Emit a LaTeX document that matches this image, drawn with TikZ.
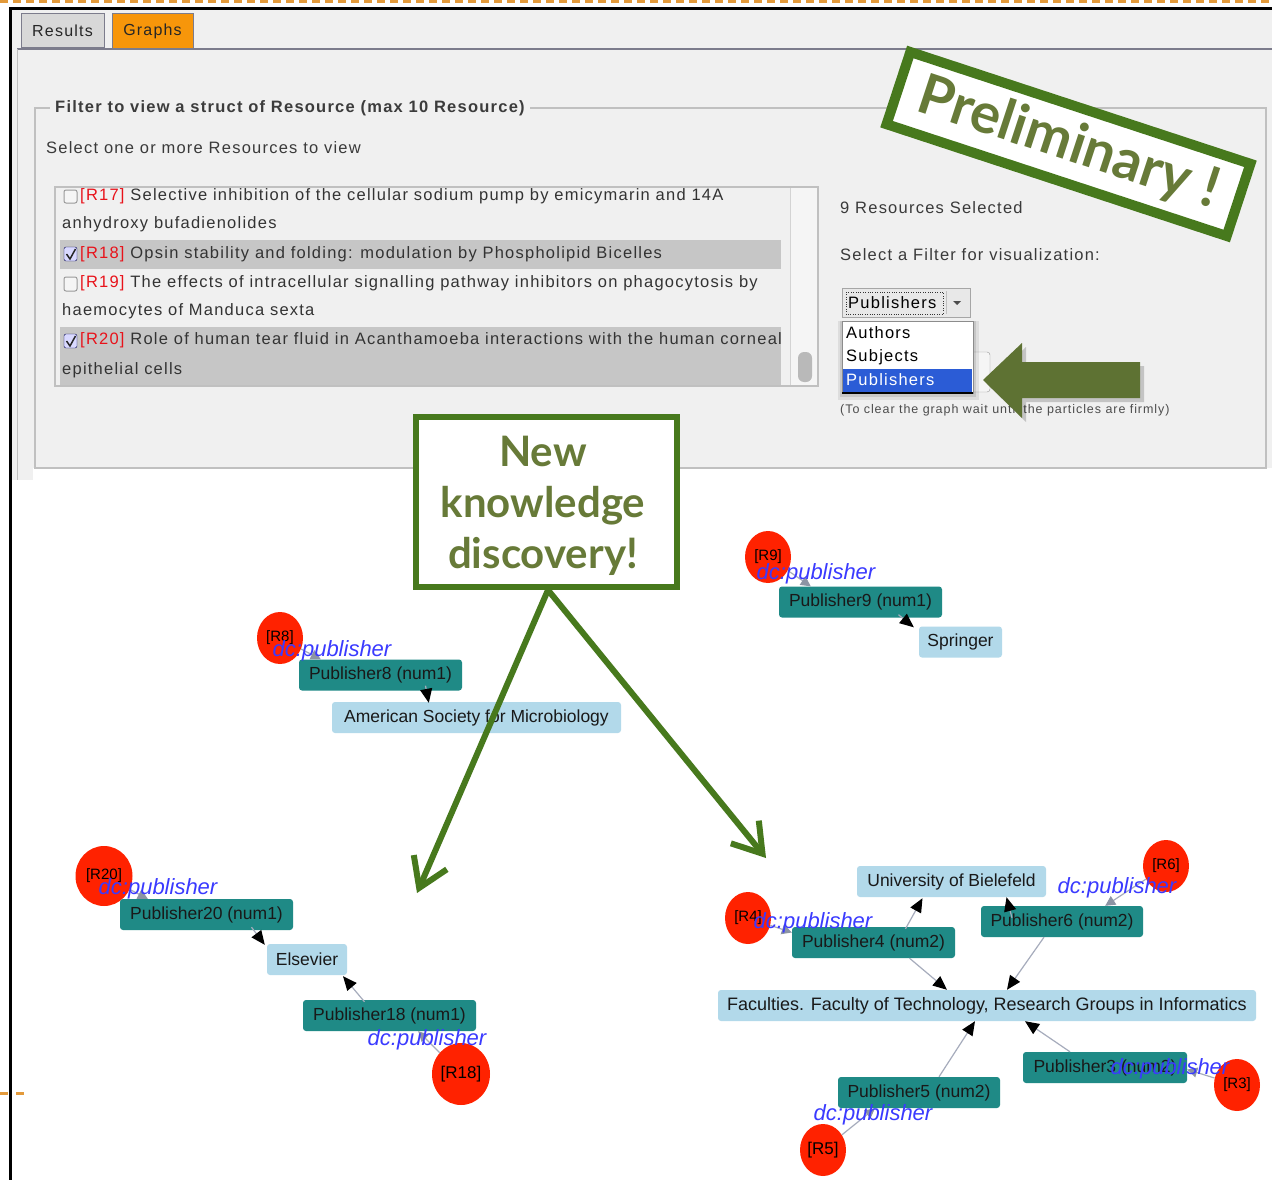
\documentclass[tikz,border=0pt]{standalone}
\usepackage{fontspec}
\setmainfont{Liberation Sans}
\newfontfamily\uifont{Liberation Sans}[LetterSpace=7.5]
\newfontfamily\headfont{Lato}
\usetikzlibrary{arrows.meta,shapes.geometric,calc}
\newcommand\fsz[1]{\fontsize{#1}{#1}\selectfont}
\definecolor{dashorange}{HTML}{E39A3B}
\definecolor{panelgray}{HTML}{F0F0F0}
\definecolor{tabline}{HTML}{7C7C8C}
\definecolor{graphstab}{HTML}{F7960A}
\definecolor{resultstab}{HTML}{D8D8D8}
\definecolor{fsgray}{HTML}{C0C0C0}
\definecolor{legendtxt}{HTML}{3C3C3C}
\definecolor{uitext}{HTML}{3A3A3A}
\definecolor{selrow}{HTML}{C6C6C6}
\definecolor{rlabel}{HTML}{E8121A}
\definecolor{selblue}{HTML}{2B5CD6}
\definecolor{stampgreen}{HTML}{47791D}
\definecolor{olivetext}{HTML}{677A38}
\definecolor{arrowolive}{HTML}{5E7233}
\definecolor{resred}{HTML}{FF2200}
\definecolor{pubteal}{HTML}{1F8A86}
\definecolor{valblue}{HTML}{B2D9EA}
\definecolor{dcblue}{HTML}{3A3AFF}
\definecolor{edgegray}{HTML}{A6ACBC}
\definecolor{headgray}{HTML}{8C94A4}
\begin{document}
\begin{tikzpicture}[x=1pt,y=-1pt,
  tabbox/.style={draw=tabline, line width=1, inner sep=0, font=\uifont\fsz{16}, text=black!85},
  uitxt/.style={anchor=west, inner sep=0, font=\uifont\fsz{16.5}, text=uitext},
  li/.style={anchor=west, inner sep=0, font=\uifont\fsz{16.5}, text=black!80},
  res/.style={ellipse, fill=resred, minimum width=46, minimum height=52, inner sep=0, font=\fsz{15}, text=black},
  pub/.style={fill=pubteal, rounded corners=3, inner sep=0, minimum height=31, font=\fsz{17.5}, text=black!90},
  val/.style={fill=valblue, rounded corners=3, inner sep=0, minimum height=31, font=\fsz{17.5}, text=black!90},
  dcl/.style={inner sep=0, font=\fsz{22}\itshape, text=dcblue},
  gedge/.style={draw=edgegray, line width=1.2, -{Triangle[length=10pt,width=10pt,color=headgray,fill=headgray]}},
  dedge/.style={draw=edgegray, line width=1.2, -{Triangle[length=14pt,width=12pt,color=black,fill=black]}},
  greenarrow/.style={draw=stampgreen, line width=6, -{Straight Barb[length=28pt,width=36pt]}}
]
\useasboundingbox (0,0) rectangle (1272,1180);
\fill[white] (0,0) rectangle (1272,1180);
% panel background and frame
\fill[panelgray] (12,10) rectangle (1272,468);
\fill[panelgray] (12,468) rectangle (33,480);
\draw[dashorange, line width=3, dash pattern=on 8 off 5] (0,1.5) -- (1272,1.5);
\draw[dashorange, line width=3, dash pattern=on 8 off 8] (0,1093) -- (24,1093);
\draw[black, line width=3] (10,1180) -- (10,8.5) -- (1272,8.5);
% tabs
\node[tabbox, fill=resultstab, minimum width=83, minimum height=34] (tres) at (62.5,31) {Results};
\node[tabbox, fill=graphstab, minimum width=81, minimum height=35] (tgra) at (152.5,31.5) {Graphs};
\draw[tabline, line width=2] (17,49.5) -- (1272,49.5);
\draw[fsgray, line width=1] (17,49.5) -- (17,480);
% fieldset
\draw[fsgray, line width=1.5] (35,108) rectangle (1266,468);
\node[anchor=west, fill=panelgray, inner xsep=5, inner ysep=2, font=\uifont\fsz{16.5}\bfseries, text=legendtxt] (legend) at (50,108) {Filter to view a struct of Resource (max 10 Resource)};
\node[uitxt] (selhint) at (46,148) {Select one or more Resources to view};
% list box
\draw[fill=panelgray, draw=fsgray, line width=1.2] (55,187) rectangle (818,386);
\fill[selrow] (60,240) rectangle (781,269);
\fill[selrow] (60,327) rectangle (781,385);
\fill[white!96!black] (790,188) rectangle (817,385);
\draw[fsgray!70] (790,188) -- (790,385);
\fill[gray!55, rounded corners=6] (798,352) rectangle (812,382);
% checkboxes
\draw[rounded corners=2, draw=gray!80, fill=white!92!gray, line width=1] (64,190) rectangle (77,203);
\draw[rounded corners=2, draw=gray!80, fill=white!92!gray, line width=1] (64,277) rectangle (77,291);
\draw[rounded corners=2, draw=black!70!blue, fill=blue!15!white] (64,247) rectangle (77,261);
\draw[line width=1.5, black!85] (66.5,254) -- (70,259) -- (75.5,249);
\draw[rounded corners=2, draw=black!70!blue, fill=blue!15!white] (64,334) rectangle (77,348);
\draw[line width=1.5, black!85] (66.5,341) -- (70,346) -- (75.5,336);
% list texts
\node[li] (l17) at (80,196) {\textcolor{rlabel}{[R17]} Selective inhibition of the cellular sodium pump by emicymarin and 14A};
\node[li] (l17b) at (62,224) {anhydroxy bufadienolides};
\node[li] (l18) at (80,254) {\textcolor{rlabel}{[R18]} Opsin stability and folding: modulation by Phospholipid Bicelles};
\node[li] (l19) at (80,283) {\textcolor{rlabel}{[R19]} The effects of intracellular signalling pathway inhibitors on phagocytosis by};
\node[li] (l19b) at (62,311) {haemocytes of Manduca sexta};
\node[li] (l20) at (80,340) {\textcolor{rlabel}{[R20]} Role of human tear fluid in Acanthamoeba interactions with the human corneal};
\node[li] (l20b) at (62,370) {epithelial cells};
% right side controls
\node[uitxt] (nsel) at (840,208) {9 Resources Selected};
\node[uitxt] (filt) at (840,255) {Select a Filter for visualization:};
\draw[fill=black!9, draw=black!35] (842,288) rectangle (970,317);
\draw[black!80, dotted] (846,292) rectangle (943,314);
\node[anchor=west, inner sep=0, font=\uifont\fsz{16.5}, text=black] (ddsel) at (848,303) {Publishers};
\draw[black!25] (946,291) -- (946,314);
\fill[black!70] (953,301) -- (961,301) -- (957,305) -- cycle;
\draw[fill=black!4, draw=black!40, rounded corners=3] (955,352) rectangle (990,392);
\fill[black, opacity=0.08] (838,321) rectangle (979,400);
\fill[black, opacity=0.1] (840,321) rectangle (976,397);
\draw[fill=white, draw=black!45] (842,321) rectangle (973,393);
\node[anchor=west, inner sep=0, font=\uifont\fsz{16.5}, text=black] (oauth) at (846,333) {Authors};
\node[anchor=west, inner sep=0, font=\uifont\fsz{16.5}, text=black] (osubj) at (846,357) {Subjects};
\fill[selblue] (843,369) rectangle (972,392);
\draw[black, line width=1.2] (842,393) -- (973,393);
\node[anchor=west, inner sep=0, font=\uifont\fsz{16.5}, text=white] (opub) at (846,380) {Publishers};
\node[anchor=west, inner sep=0, font=\uifont\fsz{12.5}, text=black!70] (clearnote) at (840,410) {(To clear the graph wait until the particles are firmly)};
% big green pointer arrow
\fill[black, opacity=0.18] (987,384) -- (1026,347) -- (1026,366) -- (1144,366) -- (1144,402) -- (1026,402) -- (1026,422) -- cycle;
\fill[arrowolive] (983,380) -- (1022,343) -- (1022,362) -- (1140,362) -- (1140,398) -- (1022,398) -- (1022,418) -- cycle;
% Preliminary stamp
\node[draw=stampgreen, line width=10, fill=white, minimum width=358, minimum height=76, rotate=-18.2, text=olivetext, font=\headfont\bfseries\fsz{56}, inner sep=0] (stamp) at (1068.5,144) {Preliminary !};
% graph: resource circles
\node[res] (r9) at (768,557) {[R9]};
\node[res] (r8) at (280,638) {[R8]};
\node[res, minimum width=57, minimum height=60] (r20) at (104,876) {[R20]};
\node[res, minimum width=58, minimum height=62, font=\fsz{17}] (r18) at (461,1074) {[R18]};
\node[res] (r6) at (1166,866) {[R6]};
\node[res] (r4) at (748,918) {[R4]};
\node[res] (r3) at (1237,1085) {[R3]};
\node[res, font=\fsz{17}] (r5) at (823,1150) {[R5]};
% publisher nodes
\node[pub, minimum width=163] (p9) at (860.5,602) {Publisher9 (num1)};
\node[val, minimum width=83] (spr) at (960.5,642) {Springer};
\node[pub, minimum width=163] (p8) at (380.5,675) {Publisher8 (num1)};
\node[val, minimum width=289] (asm) at (476.5,717.5) {American Society for Microbiology};
\node[pub, minimum width=173] (p20) at (206.5,914.5) {Publisher20 (num1)};
\node[val, minimum width=80] (els) at (307,959.5) {Elsevier};
\node[pub, minimum width=173] (p18) at (389.5,1015.5) {Publisher18 (num1)};
\node[val, minimum width=189] (uni) at (951.5,881.5) {University of Bielefeld};
\node[pub, minimum width=162] (p6) at (1062,921.5) {Publisher6 (num2)};
\node[pub, minimum width=163] (p4) at (873.5,942.5) {Publisher4 (num2)};
\node[val, minimum width=538, font=\fsz{18}] (fac) at (987,1005.5) {Faculties. Faculty of Technology, Research Groups in Informatics};
\node[pub, minimum width=164] (p3) at (1105,1067.5) {Publisher3 (num2)};
\node[pub, minimum width=162] (p5) at (919,1092.5) {Publisher5 (num2)};
% value edges
\draw[dedge] ($(p9.south)+(38,-3)$) -- ($(spr.north west)+(-5,1)$);
\draw[dedge] ($(p8.south)+(45,-5)$) -- ($(asm.north west)+(97,1)$);
\draw[dedge] ($(p20.south)+(45,-3)$) -- ($(els.north west)+(-2,1)$);
\draw[dedge] ($(p18.north)+(-25,2)$) -- ($(els.south)+(36,1)$);
\draw[dedge] ($(p4.north)+(32,2)$) -- ($(uni.south)+(-29,1)$);
\draw[dedge] ($(p6.north)+(-50,12)$) -- ($(uni.south)+(55,0)$);
\draw[dedge] ($(p4.south)+(36,0)$) -- ($(fac.north)+(-40,0)$);
\draw[dedge] ($(p6.south)+(-18,0)$) -- ($(fac.north)+(20,0)$);
\draw[dedge] ($(p5.north)+(20,0)$) -- ($(fac.south)+(-12,0)$);
\draw[dedge] ($(p3.north)+(-35,0)$) -- ($(fac.south)+(38,0)$);
% resource edges
\draw[gedge] (r9) -- ($(p9.north west)+(32,0)$);
\draw[gedge] (r8) -- ($(p8.north west)+(22,0)$);
\draw[gedge] (r20) -- ($(p20.north west)+(28,0)$);
\draw[gedge] (r18) -- ($(p18.south east)+(-58,0)$);
\draw[gedge] (r6) -- ($(p6.north east)+(-38,0)$);
\draw[gedge] (r4) -- ($(p4.west)+(0,-10)$);
\draw[gedge] (r3) -- ($(p3.east)+(0,2)$);
\draw[gedge] (r5) -- ($(p5.south)+(-44,0)$);
% dc:publisher labels
\node[dcl] (d9) at (816,574) {dc:publisher};
\node[dcl] (d8) at (332,651) {dc:publisher};
\node[dcl] (d20) at (158,889) {dc:publisher};
\node[dcl] (d18) at (427,1040) {dc:publisher};
\node[dcl] (d6) at (1117,888) {dc:publisher};
\node[dcl] (d4) at (813,923) {dc:publisher};
\node[dcl] (d3) at (1170,1069) {dc:publisher};
\node[dcl] (d5) at (873,1115) {dc:publisher};
% New knowledge discovery box and arrows
\node[draw=stampgreen, line width=6, fill=white, minimum width=261, minimum height=170, inner sep=0] (nk) at (546.5,502) {};
\node[align=center, text=olivetext, font=\headfont\bfseries\fontsize{42}{51}\selectfont, inner sep=0] (nktxt) at (543,506) {New\\knowledge\\discovery!};
\coordinate (tipL) at (417,893);
\coordinate (tipR) at (766,858);
\coordinate (nkfoot) at (548,590);
\draw[greenarrow] (nkfoot) -- (tipL);
\draw[greenarrow] (nkfoot) -- (tipR);
\end{tikzpicture}
\end{document}
